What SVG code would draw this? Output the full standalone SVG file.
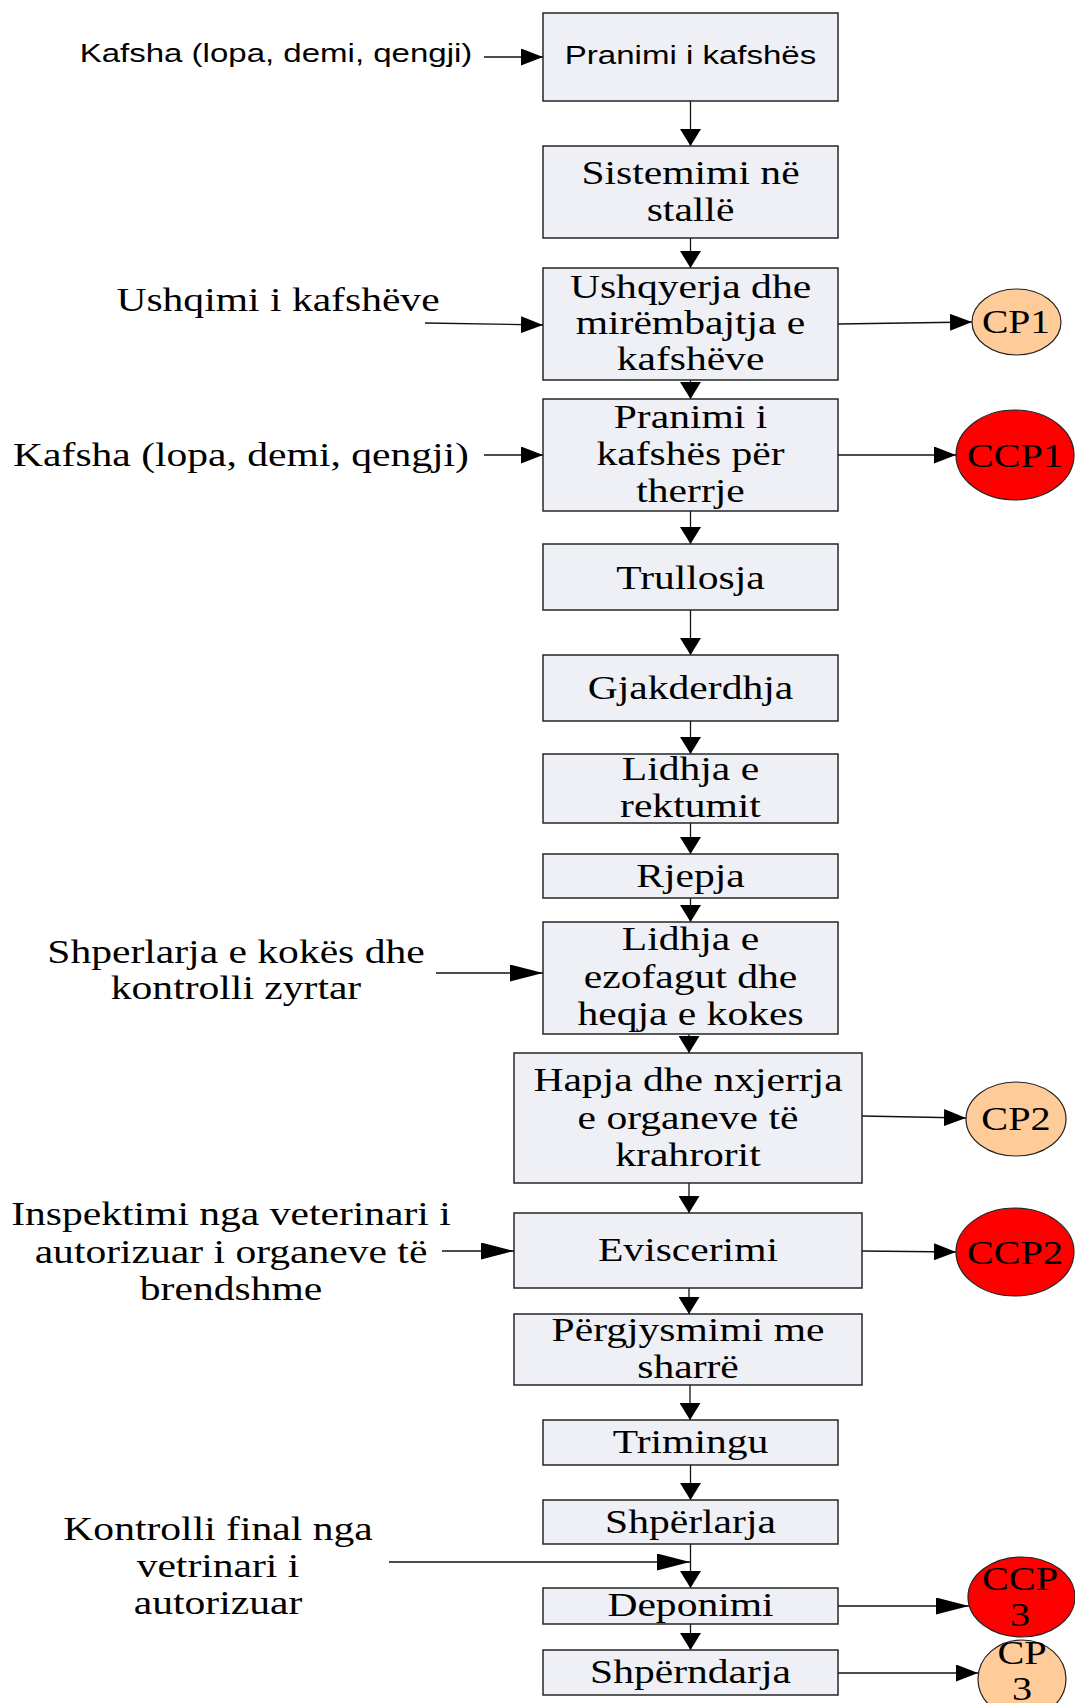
<svg xmlns="http://www.w3.org/2000/svg" width="1075" height="1703" viewBox="0 0 1075 1703">
<defs>
<style>
.box{fill:#eef0f5;stroke:#262626;stroke-width:1.5}
.cp{fill:#ffcc99;stroke:#222;stroke-width:1.2}
.ccp{fill:#ff0000;stroke:#222;stroke-width:1.2}
.ser{font-family:"Liberation Serif","Times New Roman",serif;font-size:33px;fill:#000;text-anchor:middle}
.san{font-family:"Liberation Sans",Arial,sans-serif;font-size:26px;fill:#000;text-anchor:middle}
.cn line{stroke:#111;stroke-width:1.3;fill:none}
.h{marker-end:url(#ah)}
.l{marker-end:url(#al)}
.v{marker-end:url(#av)}
</style>
<marker id="ah" markerUnits="userSpaceOnUse" markerWidth="22" markerHeight="17" refX="22" refY="8.5" orient="auto"><path d="M0,0 L22,8.5 L0,17 Z" fill="#000"/></marker>
<marker id="al" markerUnits="userSpaceOnUse" markerWidth="33" markerHeight="17" refX="33" refY="8.5" orient="auto"><path d="M0,0 L33,8.5 L0,17 Z" fill="#000"/></marker>
<marker id="av" markerUnits="userSpaceOnUse" markerWidth="17" markerHeight="21" refX="17" refY="10.5" orient="auto"><path d="M0,0 L17,10.5 L0,21 Z" fill="#000"/></marker>
</defs>
<rect width="1075" height="1703" fill="#fff"/>

<g id="connectors" class="cn">
<line class="v" x1="690.5" y1="101" x2="690.5" y2="146"/>
<line class="v" x1="690.5" y1="238" x2="690.5" y2="268"/>
<line class="v" x1="690.5" y1="380" x2="690.5" y2="399"/>
<line class="v" x1="690.5" y1="511" x2="690.5" y2="544"/>
<line class="v" x1="690.5" y1="610" x2="690.5" y2="655"/>
<line class="v" x1="690.5" y1="721" x2="690.5" y2="754"/>
<line class="v" x1="690.5" y1="823" x2="690.5" y2="854"/>
<line class="v" x1="690.5" y1="898" x2="690.5" y2="922"/>
<line class="v" x1="689" y1="1034" x2="689" y2="1053"/>
<line class="v" x1="689" y1="1183" x2="689" y2="1213"/>
<line class="v" x1="689" y1="1288" x2="689" y2="1314"/>
<line class="v" x1="690" y1="1385" x2="690" y2="1420"/>
<line class="v" x1="690.5" y1="1465" x2="690.5" y2="1500"/>
<line class="v" x1="690.5" y1="1544" x2="690.5" y2="1588"/>
<line class="v" x1="690.5" y1="1624" x2="690.5" y2="1650"/>
<line class="h" x1="484" y1="57" x2="543" y2="57"/>
<line class="h" x1="425" y1="323" x2="543" y2="325"/>
<line class="h" x1="838" y1="324" x2="972" y2="322"/>
<line class="h" x1="484" y1="455" x2="543" y2="455"/>
<line class="h" x1="838" y1="455" x2="956" y2="455"/>
<line class="l" x1="436" y1="973" x2="543" y2="973"/>
<line class="h" x1="862" y1="1116" x2="966" y2="1118"/>
<line class="l" x1="442" y1="1251" x2="514" y2="1251"/>
<line class="h" x1="862" y1="1251" x2="956" y2="1252"/>
<line class="l" x1="389" y1="1562" x2="690" y2="1562"/>
<line class="l" x1="838" y1="1606" x2="969" y2="1606"/>
<line class="h" x1="838" y1="1673" x2="978" y2="1673"/>
</g>

<g id="in1"><text class="san" transform="translate(276 0) scale(1.27 1)" x="0" y="62">Kafsha (lopa, demi, qengji)</text></g>
<g id="in2"><text class="ser" transform="translate(278 0) scale(1.26 1)" x="0" y="311">Ushqimi i kafshëve</text></g>
<g id="in3"><text class="ser" transform="translate(241 0) scale(1.26 1)" x="0" y="466">Kafsha (lopa, demi, qengji)</text></g>
<g id="in4"><text class="ser" transform="translate(236 0) scale(1.26 1)"><tspan x="0" y="963">Shperlarja e kokës dhe</tspan><tspan x="0" y="999">kontrolli zyrtar</tspan></text></g>
<g id="in5"><text class="ser" transform="translate(231 0) scale(1.26 1)"><tspan x="0" y="1225">Inspektimi nga veterinari i</tspan><tspan x="0" y="1263">autorizuar i organeve të</tspan><tspan x="0" y="1300">brendshme</tspan></text></g>
<g id="in6"><text class="ser" transform="translate(218 0) scale(1.26 1)"><tspan x="0" y="1540">Kontrolli final nga</tspan><tspan x="0" y="1577">vetrinari i</tspan><tspan x="0" y="1614">autorizuar</tspan></text></g>

<g id="n1"><rect class="box" x="543" y="13" width="295" height="88"/><text class="san" transform="translate(690.5 0) scale(1.27 1)" x="0" y="64">Pranimi i kafshës</text></g>
<g id="n2"><rect class="box" x="543" y="146" width="295" height="92"/><text class="ser" transform="translate(690.5 0) scale(1.26 1)"><tspan x="0" y="184">Sistemimi në</tspan><tspan x="0" y="221">stallë</tspan></text></g>
<g id="n3"><rect class="box" x="543" y="268" width="295" height="112"/><text class="ser" transform="translate(690.5 0) scale(1.26 1)"><tspan x="0" y="298">Ushqyerja dhe</tspan><tspan x="0" y="334">mirëmbajtja e</tspan><tspan x="0" y="370">kafshëve</tspan></text></g>
<g id="n4"><rect class="box" x="543" y="399" width="295" height="112"/><text class="ser" transform="translate(690.5 0) scale(1.26 1)"><tspan x="0" y="428">Pranimi i</tspan><tspan x="0" y="465">kafshës për</tspan><tspan x="0" y="502">therrje</tspan></text></g>
<g id="n5"><rect class="box" x="543" y="544" width="295" height="66"/><text class="ser" transform="translate(690.5 0) scale(1.26 1)" x="0" y="589">Trullosja</text></g>
<g id="n6"><rect class="box" x="543" y="655" width="295" height="66"/><text class="ser" transform="translate(690.5 0) scale(1.26 1)" x="0" y="699">Gjakderdhja</text></g>
<g id="n7"><rect class="box" x="543" y="754" width="295" height="69"/><text class="ser" transform="translate(690.5 0) scale(1.26 1)"><tspan x="0" y="780">Lidhja e</tspan><tspan x="0" y="817">rektumit</tspan></text></g>
<g id="n8"><rect class="box" x="543" y="854" width="295" height="44"/><text class="ser" transform="translate(690.5 0) scale(1.26 1)" x="0" y="887">Rjepja</text></g>
<g id="n9"><rect class="box" x="543" y="922" width="295" height="112"/><text class="ser" transform="translate(690.5 0) scale(1.26 1)"><tspan x="0" y="950">Lidhja e</tspan><tspan x="0" y="988">ezofagut dhe</tspan><tspan x="0" y="1025">heqja e kokes</tspan></text></g>
<g id="n10"><rect class="box" x="514" y="1053" width="348" height="130"/><text class="ser" transform="translate(688 0) scale(1.26 1)"><tspan x="0" y="1091">Hapja dhe nxjerrja</tspan><tspan x="0" y="1129">e organeve të</tspan><tspan x="0" y="1166">krahrorit</tspan></text></g>
<g id="n11"><rect class="box" x="514" y="1213" width="348" height="75"/><text class="ser" transform="translate(688 0) scale(1.26 1)" x="0" y="1261">Eviscerimi</text></g>
<g id="n12"><rect class="box" x="514" y="1314" width="348" height="71"/><text class="ser" transform="translate(688 0) scale(1.26 1)"><tspan x="0" y="1341">Përgjysmimi me</tspan><tspan x="0" y="1378">sharrë</tspan></text></g>
<g id="n13"><rect class="box" x="543" y="1420" width="295" height="45"/><text class="ser" transform="translate(690.5 0) scale(1.26 1)" x="0" y="1453">Trimingu</text></g>
<g id="n14"><rect class="box" x="543" y="1500" width="295" height="44"/><text class="ser" transform="translate(690.5 0) scale(1.26 1)" x="0" y="1533">Shpërlarja</text></g>
<g id="n15"><rect class="box" x="543" y="1588" width="295" height="36"/><text class="ser" transform="translate(690.5 0) scale(1.26 1)" x="0" y="1616">Deponimi</text></g>
<g id="n16"><rect class="box" x="543" y="1650" width="295" height="45"/><text class="ser" transform="translate(690.5 0) scale(1.26 1)" x="0" y="1683">Shpërndarja</text></g>

<g id="cp1"><ellipse class="cp" cx="1016.5" cy="322" rx="44.5" ry="33"/><text class="ser" transform="translate(1016 0) scale(1.2 1)" x="0" y="333">CP1</text></g>
<g id="ccp1"><ellipse class="ccp" cx="1015" cy="455" rx="59" ry="45"/><text class="ser" transform="translate(1015 0) scale(1.22 1)" x="0" y="467">CCP1</text></g>
<g id="cp2"><ellipse class="cp" cx="1016" cy="1119" rx="50" ry="37"/><text class="ser" transform="translate(1016 0) scale(1.22 1)" x="0" y="1130">CP2</text></g>
<g id="ccp2"><ellipse class="ccp" cx="1015" cy="1252" rx="59" ry="44"/><text class="ser" transform="translate(1015 0) scale(1.22 1)" x="0" y="1264">CCP2</text></g>
<g id="ccp3"><ellipse class="ccp" cx="1021.5" cy="1597" rx="53.5" ry="40"/><text class="ser" transform="translate(1020 0) scale(1.22 1)"><tspan x="0" y="1590">CCP</tspan><tspan x="0" y="1626">3</tspan></text></g>
<g id="cp3"><ellipse class="cp" cx="1022" cy="1679" rx="44" ry="39"/><text class="ser" transform="translate(1022 0) scale(1.22 1)"><tspan x="0" y="1664">CP</tspan><tspan x="0" y="1700">3</tspan></text></g>
</svg>
